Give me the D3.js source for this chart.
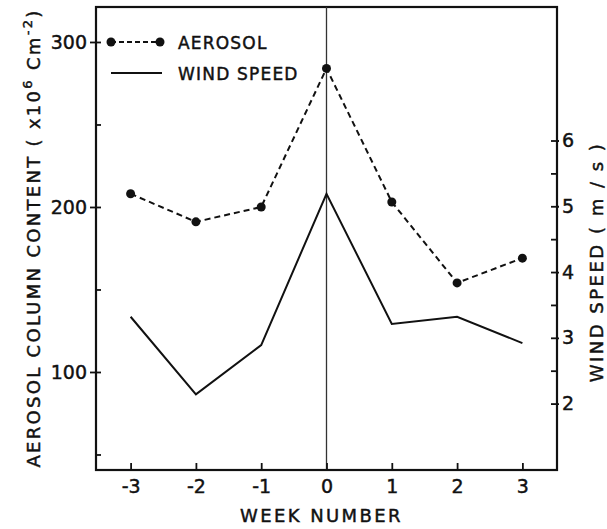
<!DOCTYPE html>
<html lang="en">
<head>
	<title>Aerosol and Wind Speed</title>
	<script src="https://d3js.org/d3.v7.min.js" charset="utf-8"></script>
	<style>
		body { margin: 0; background: #fff; }
		text { stroke: #111; stroke-width: 0.45; }
		.axis text { font: 19px "DejaVu Sans", sans-serif; fill: #111; }
		.axis line { stroke: #111; stroke-width: 1.8; }
		.axis path { display: none; }
	</style>
</head>
<body>
	<script>
		// Values
		var weeks = [-3, -2, -1, 0, 1, 2, 3];
		var aerosol = [208, 191, 200, 284, 203, 154, 169];      // x10^6 cm^-2
		var windSpeed = [3.32, 2.14, 2.89, 5.19, 3.21, 3.32, 2.92]; // m/s

		var leftTicks = [100, 200, 300];
		var leftMinor = [50, 100, 150, 200, 250, 300];
		var rightTicks = [2, 3, 4, 5, 6];
		var rightMinor = [2, 2.5, 3, 3.5, 4, 4.5, 5, 5.5, 6];

		var w = 607, h = 529;
		// plot frame edges
		var fLeft = 96, fRight = 557, fTop = 7, fBottom = 470;
		var font = '"DejaVu Sans", sans-serif';

		var svg = d3.select("body").append("svg")
			.attr("width", w)
			.attr("height", h);

		var x = d3.scaleLinear().domain([-3.53, 3.53]).range([fLeft, fRight]);
		var yL = d3.scaleLinear().domain([40.6, 321.2]).range([fBottom, fTop]);
		var yR = d3.scaleLinear().domain([0.99, 8.03]).range([fBottom, fTop]);

		// frame
		svg.append("rect")
			.attr("x", fLeft).attr("y", fTop)
			.attr("width", fRight - fLeft).attr("height", fBottom - fTop)
			.attr("fill", "none").attr("stroke", "#111").attr("stroke-width", 2.2);

		// vertical line at week 0
		svg.append("line")
			.attr("x1", x(0)).attr("x2", x(0))
			.attr("y1", fTop).attr("y2", fBottom)
			.attr("stroke", "#333").attr("stroke-width", 1.3);

		// left axis: labels + outward ticks
		svg.append("g").attr("class", "axis")
			.attr("transform", "translate(" + fLeft + ",0)")
			.call(d3.axisLeft(yL).tickValues(leftTicks).tickSize(6).tickPadding(3).tickFormat(function(d){ return String(d); }));
		// inward ticks
		svg.append("g").attr("class", "axis")
			.attr("transform", "translate(" + fLeft + ",0)")
			.call(d3.axisRight(yL).tickValues(leftMinor).tickSize(5).tickFormat(""));

		// right axis
		svg.append("g").attr("class", "axis")
			.attr("transform", "translate(" + fRight + ",0)")
			.call(d3.axisRight(yR).tickValues(rightTicks).tickSize(2).tickPadding(3).tickFormat(function(d){ return String(d); }));
		svg.append("g").attr("class", "axis")
			.attr("transform", "translate(" + fRight + ",0)")
			.call(d3.axisLeft(yR).tickValues(rightMinor).tickSize(6).tickFormat(""));

		// bottom axis
		svg.append("g").attr("class", "axis")
			.attr("transform", "translate(0," + fBottom + ")")
			.call(d3.axisTop(x).tickValues(weeks).tickSize(7).tickFormat(""));
		svg.append("g").attr("class", "axis")
			.attr("transform", "translate(0," + fBottom + ")")
			.call(d3.axisBottom(x).tickValues(weeks).tickSize(0).tickPadding(10).tickFormat(function(d){ return String(d); }));

		// axis titles
		svg.append("text")
			.attr("text-anchor", "middle")
			.attr("transform", "translate(" + ((fLeft + fRight) / 2 - 5) + ",522)")
			.attr("font-family", font).attr("font-size", 18)
			.attr("letter-spacing", 2.4)
			.attr("fill", "#111")
			.text("WEEK NUMBER");

		var yTitle = svg.append("text")
			.attr("text-anchor", "middle")
			.attr("transform", "translate(40,238) rotate(-90)")
			.attr("font-family", font).attr("font-size", 18)
			.attr("letter-spacing", 2.3)
			.attr("fill", "#111");
		yTitle.append("tspan").text("AEROSOL  COLUMN  CONTENT ( x10");
		yTitle.append("tspan").attr("font-size", 13).attr("dy", -8).text("6");
		yTitle.append("tspan").attr("dy", 8).text(" Cm");
		yTitle.append("tspan").attr("font-size", 13).attr("dy", -8).text("-2");
		yTitle.append("tspan").attr("dy", 8).text(")");

		svg.append("text")
			.attr("text-anchor", "middle")
			.attr("transform", "translate(603,262) rotate(-90)")
			.attr("font-family", font).attr("font-size", 18)
			.attr("letter-spacing", 2.5)
			.attr("fill", "#111")
			.text("WIND  SPEED ( m / s )");

		// wind speed line
		var windLine = d3.line()
			.x(function(d, i){ return x(weeks[i]); })
			.y(function(d){ return yR(d); });
		svg.append("path")
			.datum(windSpeed)
			.attr("d", windLine)
			.attr("fill", "none").attr("stroke", "#111").attr("stroke-width", 2);

		// aerosol line
		var aeroLine = d3.line()
			.x(function(d, i){ return x(weeks[i]); })
			.y(function(d){ return yL(d); });
		svg.append("path")
			.datum(aerosol)
			.attr("d", aeroLine)
			.attr("fill", "none").attr("stroke", "#111").attr("stroke-width", 2)
			.attr("stroke-dasharray", "6,4");
		svg.selectAll("circle.aero")
			.data(aerosol)
			.enter()
			.append("circle")
			.attr("class", "aero")
			.attr("cx", function(d, i){ return x(weeks[i]); })
			.attr("cy", function(d){ return yL(d); })
			.attr("r", 4.5)
			.attr("fill", "#111");

		// legend
		var lg = svg.append("g");
		lg.append("line")
			.attr("x1", 111).attr("x2", 160).attr("y1", 42).attr("y2", 42)
			.attr("stroke", "#111").attr("stroke-width", 2).attr("stroke-dasharray", "5,3");
		lg.selectAll("circle").data([111, 160]).enter().append("circle")
			.attr("cx", function(d){ return d; }).attr("cy", 42).attr("r", 4.5).attr("fill", "#111");
		lg.append("text")
			.attr("x", 178).attr("y", 49)
			.attr("font-family", font).attr("font-size", 17).attr("letter-spacing", 1.2)
			.attr("fill", "#111").text("AEROSOL");
		lg.append("line")
			.attr("x1", 111).attr("x2", 162).attr("y1", 73).attr("y2", 73)
			.attr("stroke", "#111").attr("stroke-width", 2);
		lg.append("text")
			.attr("x", 178).attr("y", 80)
			.attr("font-family", font).attr("font-size", 17).attr("letter-spacing", 1.2)
			.attr("fill", "#111").text("WIND SPEED");
	</script>
</body>
</html>
